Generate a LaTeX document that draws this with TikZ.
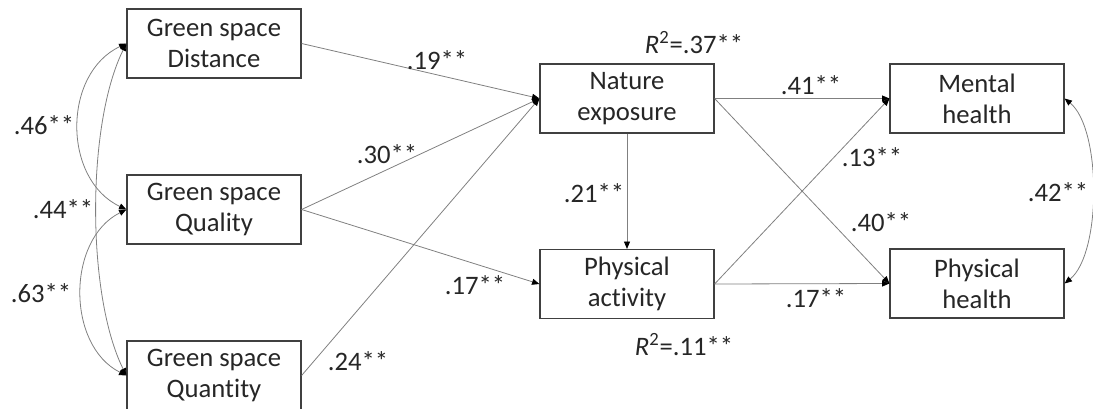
\documentclass[tikz,border=0pt]{standalone}
\usepackage{fontspec}
\setmainfont{Carlito}[Ligatures={NoCommon}]
\usepackage{tikz}
\usetikzlibrary{arrows.meta}

\begin{document}
\begin{tikzpicture}[x=0.75pt,y=-0.75pt,
    font=\fontsize{20}{23.25}\selectfont,
    box/.style={draw=black!75,line width=0.9pt,minimum width=130.5pt,
      minimum height=51.75pt,align=center,inner sep=0pt,text=black!85},
    link/.style={draw=black!50,line width=0.6pt,
      -{Triangle[length=5.5pt,width=4.5pt,color=black]}},
    cov/.style={link,{Triangle[length=5.5pt,width=4.5pt,color=black]}-{Triangle[length=5.5pt,width=4.5pt,color=black]}}]
   			\useasboundingbox (0,0) rectangle (1093,408);
   			
   			\node[box] (dist) at (214,43.5) {Green space\\Distance};
   			\node[box] (qual) at (214,209.5) {Green space\\Quality};
   			\node[box] (quan) at (214,375.5) {Green space\\Quantity};
   			\node[box] (nat) at (627,98.5) {Nature\\exposure};
   			\node[box] (pa) at (627,284) {Physical\\activity};
   			\node[box] (ment) at (977,98.5) {Mental\\health};
   			\node[box] (phys) at (977,283.5) {Physical\\health};
   			
   			\draw[link] (dist.east) -- (nat.west);
   			\draw[link] (qual.east) -- (nat.west);
   			\draw[link] (qual.east) -- (pa.west);
   			\draw[link] (quan.east) -- (nat.west);
   			\draw[link] (nat.south) -- (pa.north);
   			\draw[link] (nat.east) -- (ment.west);
   			\draw[link] (nat.east) -- (phys.west);
   			\draw[link] (pa.east) -- (ment.west);
   			\draw[link] (pa.east) -- (phys.west);
   			
   			\draw[cov] (dist.west) .. controls +(-64,30) and +(-64,-30) .. (qual.west);
   			\draw[cov] (qual.west) .. controls +(-60,30) and +(-60,-30) .. (quan.west);
   			\draw[cov] (dist.west) .. controls +(-40,80) and +(-40,-80) .. (quan.west);
   			\draw[cov] (ment.east) .. controls +(37,30) and +(37,-30) .. (phys.east);
   			
   			\foreach \name/\x/\y/\coef in {
   				dq/44/125/.46**,
   				dn/63/209/.44**,
   				qn/41/293/.63**,
   				dnat/437/60/.19**,
   				qnat/387/154/.30**,
   				qpa/475/285/.17**,
   				nnat/358/361/.24**,
   				natpa/594/193/.21**,
   				natm/811/85/.41**,
   				pam/872/157/.13**,
   				natp/881/222/.40**,
   				pap/816/298/.17**,
   				mp/1058/192/.42**,
   				rnat/694/43/\textit{R}\textsuperscript{2}=.37**,
   				rpa/684/345/\textit{R}\textsuperscript{2}=.11**
   			}{
   				\node[text=black!85,inner sep=0pt] (\name) at (\x,\y) {\coef};
   			}
   		\end{tikzpicture}
\end{document}
